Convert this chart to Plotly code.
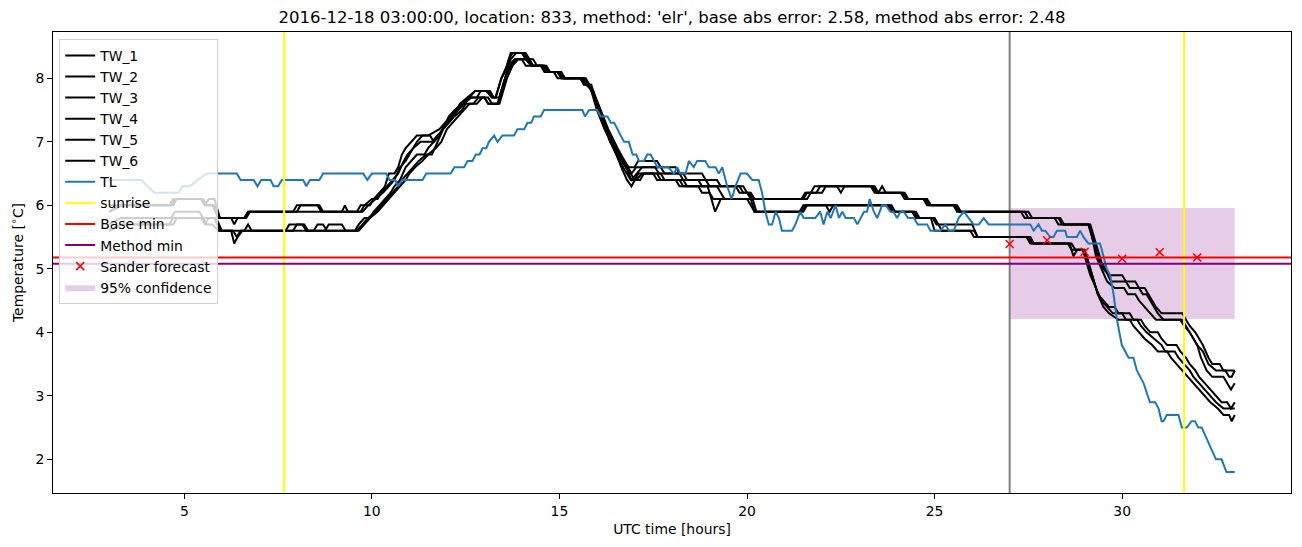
import plotly.graph_objects as go

TITLE = "2016-12-18 03:00:00, location: 833, method: 'elr', base abs error: 2.58, method abs error: 2.48"

# (hour, temperature) vertices
TW_1 = [(3.0,6.0),(4.6,6.0),(4.7,6.1),(5.45,6.1),(5.55,6.0),(5.65,6.1),(5.8,6.1),(5.95,5.8),(6.25,5.8),(6.33,5.7),(6.42,5.8),(6.6,5.8),(6.7,5.9),(7.9,5.9),(8.0,6.0),(8.6,6.0),(8.7,5.9),(9.6,5.9),
        (9.7,6.0),(9.95,6.0),(10.05,6.1),(10.2,6.2),(10.35,6.3),(10.45,6.5),(10.6,6.5),(10.7,6.6),(10.8,6.8),(10.9,6.9),(11.05,7.0),(11.2,7.1),(11.5,7.1),(11.8,7.2),(11.95,7.3),(12.1,7.4),(12.25,7.5),(12.35,7.6),(12.55,7.7),(12.75,7.8),(13.1,7.8),(13.2,7.7),(13.3,7.7),(13.45,8.0),(13.55,8.1),(13.65,8.3),(13.75,8.4),(14.1,8.4),(14.2,8.3),(14.3,8.2),(14.6,8.2),(14.7,8.1),(15.0,8.1),(15.1,8.0),(15.6,8.0),(15.7,7.9),(15.85,7.9),(16.0,7.6),(16.2,7.3),(16.4,7.0),(16.6,6.8),(16.85,6.6),
        (17.0,6.6),(17.1,6.7),(17.6,6.7),(17.7,6.6),(18.1,6.6),(18.2,6.5),(18.8,6.5),(18.9,6.4),(19.2,6.4),(19.3,6.3),(19.9,6.3),(20.0,6.2),(20.1,6.2),(20.2,6.1),(21.45,6.1),(21.55,6.2),(21.7,6.2),(21.8,6.3),(23.35,6.3),(23.45,6.2),(24.1,6.2),(24.2,6.1),(24.7,6.1),(24.8,6.0),(25.5,6.0),(25.6,5.9),(27.4,5.9),(27.5,5.8),(28.3,5.8),(28.4,5.7),(29.1,5.7),
        (29.2,5.5),(29.3,5.3),(29.4,5.1),(29.5,5.0),(29.65,4.9),(30.0,4.9),(30.1,4.8),(30.35,4.8),(30.45,4.7),(30.6,4.7),(30.7,4.6),(30.8,4.5),(30.9,4.4),(31.05,4.3),(31.6,4.3),(31.7,4.2),(31.8,4.1),(31.95,4.0),(32.05,3.9),(32.15,3.8),(32.3,3.6),(32.4,3.5),(32.6,3.5),(32.7,3.4),(33.0,3.4)]

TW_2 = [(3.0,5.9),(3.3,6.0),(4.65,6.0),(4.75,6.1),(5.45,6.1),(5.55,6.0),(5.75,6.0),(5.9,5.8),(6.6,5.8),(6.7,5.9),(8.0,5.9),(8.1,6.0),(8.55,6.0),(8.65,5.9),(9.2,5.9),(9.28,6.0),(9.36,5.9),(9.7,5.9),
        (9.8,6.0),(10.0,6.1),(10.15,6.1),(10.25,6.2),(10.4,6.3),(10.55,6.4),(10.7,6.5),(10.85,6.7),(10.95,6.8),(11.1,6.9),(11.3,7.0),(11.6,7.0),(11.75,7.1),(11.9,7.2),(12.0,7.3),(12.15,7.4),(12.3,7.5),(12.45,7.6),(12.65,7.7),(13.0,7.7),(13.1,7.6),(13.35,7.6),(13.5,7.9),(13.65,8.2),(13.8,8.3),(14.0,8.3),(14.1,8.2),(14.5,8.2),(14.6,8.1),(14.85,8.1),(14.95,8.0),(15.65,8.0),(15.75,7.9),(15.9,7.8),(16.1,7.5),(16.3,7.2),(16.55,6.9),(16.92,6.5),
        (17.05,6.6),(17.7,6.6),(17.8,6.5),(18.3,6.5),(18.4,6.4),(18.7,6.4),(18.8,6.3),(19.8,6.3),(19.9,6.2),(20.05,6.2),(20.15,6.1),(21.5,6.1),(21.6,6.2),(21.85,6.2),(21.95,6.3),(22.4,6.3),(22.5,6.2),(22.6,6.3),(23.3,6.3),(23.4,6.2),(24.2,6.2),(24.3,6.1),(24.75,6.1),(24.85,6.0),(25.6,6.0),(25.7,5.9),(27.3,5.9),(27.4,5.8),(28.35,5.8),(28.45,5.7),(29.15,5.7),
        (29.25,5.5),(29.35,5.3),(29.45,5.1),(29.55,5.0),(29.7,4.8),(30.1,4.8),(30.2,4.7),(30.45,4.7),(30.55,4.6),(30.65,4.6),(30.75,4.5),(30.85,4.4),(30.95,4.3),(31.1,4.2),(31.55,4.2),(31.65,4.1),(31.8,4.0),(31.9,3.9),(32.0,3.8),(32.15,3.7),(32.3,3.5),(32.5,3.4),(32.75,3.4),(32.85,3.3),(32.92,3.3),(33.0,3.4)]

TW_3 = [(3.0,5.9),(3.35,6.0),(4.7,6.0),(4.8,6.1),(5.5,6.1),(5.6,6.0),(5.8,6.0),(5.95,5.8),(6.65,5.8),(6.75,5.9),(9.75,5.9),
        (9.9,6.0),(10.1,6.1),(10.3,6.2),(10.45,6.3),(10.6,6.4),(10.75,6.6),(10.9,6.7),(11.0,6.8),(11.2,7.0),(11.35,7.1),(11.55,7.1),(11.65,7.0),(11.8,7.1),(11.9,7.2),(12.05,7.4),(12.2,7.5),(12.4,7.6),(12.6,7.7),(12.8,7.7),(12.9,7.8),(13.15,7.8),(13.25,7.7),(13.4,7.7),(13.55,8.0),(13.7,8.2),(13.85,8.3),(14.15,8.3),(14.25,8.2),(14.55,8.2),(14.65,8.1),(14.95,8.1),(15.05,8.0),(15.7,8.0),(15.8,7.9),(16.0,7.6),(16.25,7.2),(16.5,6.9),(16.7,6.7),(16.92,6.4),
        (17.05,6.5),(17.2,6.6),(17.55,6.6),(17.65,6.5),(18.2,6.5),(18.3,6.4),(18.9,6.4),(19.0,6.3),(19.7,6.3),(19.8,6.2),(20.0,6.2),(20.1,6.1),(21.6,6.1),(21.7,6.2),(22.0,6.2),(22.1,6.3),(23.4,6.3),(23.5,6.2),(23.6,6.3),(23.7,6.2),(24.15,6.2),(24.25,6.1),(24.8,6.1),(24.9,6.0),(25.55,6.0),(25.65,5.9),(27.5,5.9),(27.6,5.8),(28.2,5.8),(28.3,5.7),(29.1,5.7),
        (29.2,5.5),(29.3,5.2),(29.45,5.0),(29.6,4.8),(29.8,4.7),(30.05,4.7),(30.15,4.6),(30.35,4.6),(30.45,4.5),(30.6,4.4),(30.75,4.3),(30.9,4.2),(31.6,4.2),(31.7,4.1),(31.8,4.0),(31.9,3.9),(32.0,3.8),(32.1,3.6),(32.25,3.4),(32.4,3.3),(32.7,3.3),(32.8,3.2),(32.9,3.1),(33.0,3.2)]

TW_4 = [(3.0,5.6),(3.3,5.7),(4.6,5.7),(4.7,5.8),(5.45,5.8),(5.55,5.7),(5.65,5.8),(5.8,5.8),(5.95,5.6),(6.25,5.6),(6.33,5.4),(6.42,5.5),(6.55,5.6),(7.7,5.6),(7.8,5.7),(8.2,5.7),(8.3,5.6),(8.75,5.6),(8.85,5.7),(9.2,5.7),(9.3,5.6),(9.55,5.6),
        (9.65,5.7),(9.8,5.8),(9.95,5.8),(10.05,5.9),(10.2,6.0),(10.35,6.1),(10.5,6.2),(10.6,6.3),(10.75,6.4),(10.9,6.6),(11.05,6.7),(11.2,6.8),(11.4,6.8),(11.5,6.9),(11.65,7.0),(11.8,7.1),(11.95,7.3),(12.1,7.4),(12.25,7.5),(12.45,7.6),(12.6,7.7),(12.75,7.8),(13.05,7.8),(13.2,7.7),(13.3,7.7),(13.45,8.0),(13.6,8.2),(13.7,8.4),(14.05,8.4),(14.15,8.3),(14.3,8.3),(14.4,8.2),(14.65,8.2),(14.75,8.1),(14.95,8.1),(15.05,8.0),(15.55,8.0),(15.65,7.9),(15.8,7.9),(16.0,7.5),(16.2,7.2),(16.45,6.9),(16.65,6.6),(16.8,6.4),(16.92,6.3),
        (17.0,6.4),(17.1,6.5),(17.6,6.5),(17.7,6.4),(18.3,6.4),(18.4,6.3),(18.95,6.3),(19.05,6.1),(19.15,5.9),(19.3,6.1),(20.1,6.1),(20.2,5.9),(21.45,5.9),(21.55,6.0),(23.8,6.0),(23.9,5.9),(24.45,5.9),(24.55,5.8),(24.95,5.8),(25.05,5.7),(26.0,5.7),(26.15,5.5),(27.55,5.5),(27.65,5.4),(28.6,5.4),(28.7,5.2),(28.8,5.3),(28.95,5.3),
        (29.05,5.2),(29.15,5.0),(29.25,4.8),(29.35,4.6),(29.5,4.5),(29.65,4.4),(29.8,4.4),(29.9,4.3),(30.2,4.3),(30.3,4.2),(30.5,4.2),(30.6,4.1),(30.75,4.0),(30.95,4.0),(31.05,3.9),(31.2,3.8),(31.45,3.8),(31.55,3.7),(31.7,3.6),(31.8,3.5),(31.95,3.4),(32.05,3.3),(32.2,3.2),(32.35,3.1),(32.5,3.0),(32.65,2.9),(32.8,2.9),(32.9,2.8),(33.0,2.9)]

TW_5 = [(3.0,5.6),(3.35,5.7),(4.7,5.7),(4.8,5.8),(5.5,5.8),(5.6,5.7),(5.75,5.7),(5.9,5.6),(6.3,5.6),(6.4,5.5),(6.5,5.6),(7.9,5.6),(8.0,5.7),(8.15,5.7),(8.25,5.6),(9.6,5.6),
        (9.75,5.7),(9.9,5.8),(10.1,5.9),(10.25,6.0),(10.4,6.1),(10.55,6.2),(10.7,6.3),(10.8,6.4),(10.95,6.5),(11.1,6.6),(11.25,6.7),(11.45,6.8),(11.6,6.8),(11.75,7.0),(11.9,7.2),(12.05,7.3),(12.2,7.4),(12.4,7.5),(12.5,7.6),(12.7,7.6),(12.85,7.7),(13.0,7.7),(13.1,7.6),(13.35,7.6),(13.55,8.0),(13.7,8.3),(13.85,8.4),(14.0,8.4),(14.1,8.3),(14.25,8.2),(14.55,8.2),(14.65,8.1),(15.05,8.1),(15.15,8.0),(15.6,8.0),(15.7,7.9),(15.9,7.8),(16.1,7.4),(16.35,7.0),(16.6,6.7),(16.9,6.4),
        (17.05,6.4),(17.2,6.5),(17.5,6.5),(17.6,6.4),(18.1,6.4),(18.2,6.3),(18.7,6.3),(18.8,6.2),(19.0,6.2),(19.1,6.1),(20.0,6.1),(20.1,6.0),(20.2,5.9),(21.5,5.9),(21.6,6.0),(22.1,6.0),(22.2,5.9),(22.3,6.0),(23.85,6.0),(23.95,5.9),(24.5,5.9),(24.6,5.8),(25.0,5.8),(25.1,5.7),(25.2,5.6),(26.05,5.6),(26.15,5.5),(27.45,5.5),(27.55,5.4),(28.55,5.4),(28.65,5.3),(28.95,5.3),
        (29.05,5.1),(29.15,4.9),(29.3,4.7),(29.45,4.5),(29.6,4.4),(29.75,4.3),(30.0,4.3),(30.1,4.2),(30.4,4.2),(30.5,4.1),(30.65,4.0),(30.85,3.9),(31.05,3.8),(31.15,3.7),(31.4,3.7),(31.5,3.6),(31.65,3.5),(31.8,3.4),(31.9,3.3),(32.05,3.2),(32.2,3.1),(32.35,3.0),(32.5,2.9),(32.7,2.8),(33.0,2.8)]

TW_6 = [(3.0,5.7),(3.3,5.8),(4.65,5.8),(4.75,5.9),(5.4,5.9),(5.5,5.8),(5.85,5.8),(6.0,5.6),(6.6,5.6),(6.7,5.7),(6.8,5.6),(8.45,5.6),(8.55,5.7),(8.7,5.7),(8.8,5.6),(9.65,5.6),
        (9.8,5.7),(9.95,5.8),(10.15,5.9),(10.3,6.0),(10.45,6.1),(10.6,6.2),(10.75,6.3),(10.9,6.4),(11.0,6.5),(11.15,6.6),(11.35,6.7),(11.5,6.8),(11.7,6.9),(11.85,7.0),(12.0,7.2),(12.15,7.3),(12.3,7.4),(12.45,7.5),(12.6,7.6),(12.8,7.6),(12.95,7.7),(13.1,7.7),(13.2,7.6),(13.4,7.6),(13.6,8.0),(13.75,8.2),(13.9,8.3),(14.15,8.3),(14.25,8.2),(14.6,8.2),(14.7,8.1),(15.0,8.1),(15.1,8.0),(15.65,8.0),(15.75,7.9),(15.95,7.7),(16.15,7.4),(16.4,7.0),(16.65,6.7),(16.9,6.5),
        (17.0,6.4),(17.15,6.4),(17.25,6.5),(17.7,6.5),(17.8,6.4),(18.2,6.4),(18.3,6.3),(19.2,6.3),(19.3,6.2),(19.4,6.1),(20.15,6.1),(20.25,5.9),(21.4,5.9),(21.5,6.0),(23.75,6.0),(23.85,5.9),(24.4,5.9),(24.5,5.8),(24.9,5.8),(25.0,5.6),(25.95,5.6),(26.05,5.5),(27.5,5.5),(27.6,5.4),(28.65,5.4),(28.75,5.3),(29.0,5.3),
        (29.1,5.1),(29.2,4.9),(29.35,4.6),(29.5,4.4),(29.65,4.3),(29.9,4.2),(30.2,4.2),(30.3,4.1),(30.45,4.0),(30.6,3.9),(30.8,3.8),(30.95,3.7),(31.2,3.7),(31.3,3.6),(31.45,3.5),(31.6,3.4),(31.75,3.3),(31.9,3.2),(32.05,3.1),(32.2,3.0),(32.35,2.9),(32.55,2.8),(32.7,2.7),(32.85,2.7),(32.92,2.6),(33.0,2.7)]

TL = [(3.0,6.4),(3.85,6.4),(4.2,6.2),(4.85,6.2),(4.95,6.3),(5.15,6.3),(5.35,6.4),(5.6,6.5),(6.4,6.5),(6.5,6.4),(6.85,6.4),(6.95,6.3),(7.05,6.4),(7.3,6.4),(7.38,6.3),(7.5,6.3),(7.6,6.4),(8.17,6.4),(8.25,6.3),(8.35,6.4),(8.6,6.4),(8.7,6.5),(9.77,6.5),(9.88,6.4),(10.0,6.5),(10.38,6.5),(10.47,6.4),(10.62,6.4),(10.7,6.3),(10.8,6.4),(11.35,6.4),(11.45,6.5),(12.1,6.5),(12.2,6.6),(12.46,6.6),(12.55,6.7),(12.68,6.7),(12.77,6.8),(12.87,6.8),(12.95,6.9),(13.05,6.9),(13.12,7.0),(13.26,7.1),(13.35,7.0),(13.48,7.1),(13.79,7.1),(13.88,7.2),(14.06,7.2),(14.15,7.3),(14.25,7.3),(14.32,7.4),(14.5,7.4),(14.59,7.5),(15.61,7.5),(15.68,7.4),(15.79,7.5),(16.01,7.5),(16.1,7.4),(16.28,7.4),(16.37,7.3),(16.46,7.3),(16.55,7.2),(16.65,7.1),(16.72,7.0),(16.85,7.0),(16.95,6.8),(17.05,6.8),(17.12,6.7),(17.25,6.7),(17.34,6.8),(17.43,6.8),(17.52,6.7),(17.61,6.6),(17.9,6.6),(18.05,6.5),(18.14,6.6),(18.22,6.5),(18.36,6.5),(18.45,6.7),(18.58,6.6),(18.67,6.7),(18.89,6.7),(18.98,6.6),(19.16,6.6),(19.25,6.5),(19.34,6.6),(19.47,6.3),(19.59,6.1),(19.69,6.3),(19.83,6.5),(20.0,6.5),(20.14,6.4),(20.31,6.4),(20.4,6.2),(20.49,5.9),(20.58,5.7),(20.67,5.7),(20.76,5.9),(20.85,5.8),(20.93,5.6),(21.2,5.6),(21.29,5.7),(21.42,5.9),(21.51,5.8),(21.82,5.8),(21.95,5.9),(22.04,5.7),(22.14,5.9),(22.23,5.8),(22.36,6.0),(22.45,5.8),(22.54,5.9),(22.63,5.8),(22.85,5.8),(22.94,5.7),(23.03,5.8),(23.12,5.9),(23.2,5.9),(23.27,6.1),(23.38,5.9),(23.47,5.8),(23.6,6.0),(23.7,6.0),(23.82,5.9),(23.9,5.9),(24.0,5.8),(24.09,5.9),(24.18,5.9),(24.29,5.8),(24.45,5.8),(24.55,5.7),(24.8,5.7),(24.89,5.6),(25.15,5.6),(25.29,5.7),(25.38,5.6),(25.51,5.6),(25.64,5.8),(25.78,5.9),(25.91,5.8),(26.04,5.7),(26.18,5.7),(26.31,5.8),(26.44,5.7),(27.55,5.7),(27.64,5.6),(27.77,5.7),(27.86,5.6),(27.95,5.6),(28.08,5.5),(28.17,5.5),(28.26,5.6),(28.48,5.6),(28.53,5.5),(28.79,5.5),(28.88,5.6),(28.97,5.5),(29.1,5.4),(29.41,5.4),(29.5,5.2),(29.59,5.0),(29.68,4.9),(29.77,4.6),(29.86,4.2),(29.99,3.8),(30.17,3.6),(30.3,3.6),(30.39,3.4),(30.57,3.2),(30.74,2.9),(30.88,2.9),(30.97,2.8),(31.05,2.6),(31.1,2.6),(31.19,2.7),(31.5,2.7),(31.59,2.5),(31.72,2.5),(31.85,2.6),(31.94,2.6),(32.03,2.5),(32.12,2.5),(32.5,2.0),(32.65,2.0),(32.78,1.8),(33.0,1.8)]

SUNRISE_HOURS = [7.66, 31.65]
NOW_HOUR = 27.0
BASE_MIN = 5.18
METHOD_MIN = 5.08
SANDER_HOURS = [27, 28, 29, 30, 31, 32]
SANDER_TEMPS = [5.39, 5.45, 5.27, 5.16, 5.26, 5.18]
CONF_HOURS = [27.0, 33.0]
CONF_BOUNDS = [4.21, 5.96]

X_RANGE = [1.5, 34.5]
Y_RANGE = [1.47, 8.73]
X_TICKS = [5, 10, 15, 20, 25, 30]
Y_TICKS = [2, 3, 4, 5, 6, 7, 8]

FONT = "DejaVu Sans"
# the page body adds an 8 px margin at top/left, so the figure is 8 px smaller on each axis
FIG_W, FIG_H = 1294, 539

fig = go.Figure()

# 95% confidence box (drawn first, behind lines)
cx = [CONF_HOURS[0], CONF_HOURS[1], CONF_HOURS[1], CONF_HOURS[0], CONF_HOURS[0]]
cy = [CONF_BOUNDS[0], CONF_BOUNDS[0], CONF_BOUNDS[1], CONF_BOUNDS[1], CONF_BOUNDS[0]]
fig.add_trace(go.Scatter(x=cx, y=cy, fill="toself", fillcolor="rgba(128,0,128,0.2)",
                         line=dict(width=0), mode="lines", name="95% confidence", legendrank=12))

# gray "now" line
fig.add_trace(go.Scatter(x=[NOW_HOUR, NOW_HOUR], y=Y_RANGE, mode="lines",
                         line=dict(color="gray", width=2), showlegend=False))

for i, tw in enumerate([TW_1, TW_2, TW_3, TW_4, TW_5, TW_6]):
    fig.add_trace(go.Scatter(x=[p[0] for p in tw], y=[p[1] for p in tw], mode="lines",
                             line=dict(color="black", width=2), name=f"TW_{i+1}", legendrank=i + 1))

fig.add_trace(go.Scatter(x=[p[0] for p in TL], y=[p[1] for p in TL], mode="lines",
                         line=dict(color="#1f77b4", width=2), name="TL", legendrank=7))

for j, h in enumerate(SUNRISE_HOURS):
    fig.add_trace(go.Scatter(x=[h, h], y=Y_RANGE, mode="lines", line=dict(color="yellow", width=2),
                             name="sunrise", showlegend=(j == 0), legendrank=8))

fig.add_trace(go.Scatter(x=X_RANGE, y=[BASE_MIN, BASE_MIN], mode="lines",
                         line=dict(color="red", width=2), name="Base min", legendrank=9))
fig.add_trace(go.Scatter(x=X_RANGE, y=[METHOD_MIN, METHOD_MIN], mode="lines",
                         line=dict(color="purple", width=2), name="Method min", legendrank=10))
fig.add_trace(go.Scatter(x=SANDER_HOURS, y=SANDER_TEMPS, mode="markers",
                         marker=dict(symbol="x-thin", size=8, line=dict(color="red", width=1.5), color="red"),
                         name="Sander forecast", legendrank=11))

axis_common = dict(showline=True, linecolor="black", linewidth=1, mirror=True, showgrid=False,
                   zeroline=False, ticks="outside", ticklen=5, tickcolor="black", automargin=False,
                   tickfont=dict(family=FONT, size=13.9, color="black"))

fig.update_layout(
    width=FIG_W, height=FIG_H,
    margin=dict(l=45, r=11, t=24, b=54, autoexpand=False),
    paper_bgcolor="white", plot_bgcolor="white",
    font=dict(family=FONT, color="black"),
    title=dict(text=TITLE, x=0.5, xref="paper", y=1 - 9 / FIG_H, yref="container",
               xanchor="center", yanchor="middle", font=dict(family=FONT, size=16.5, color="black")),
    xaxis=dict(range=X_RANGE, tickvals=X_TICKS, title=dict(text="UTC time [hours]", standoff=6,
               font=dict(family=FONT, size=13.9)), **axis_common),
    yaxis=dict(range=Y_RANGE, tickvals=Y_TICKS, title=dict(text="Temperature [<sup>∘</sup>C]", standoff=8,
               font=dict(family=FONT, size=13.9)), **axis_common),
    legend=dict(x=0.005, y=0.985, xanchor="left", yanchor="top", bgcolor="rgba(255,255,255,0.8)",
                bordercolor="#d0d0d0", borderwidth=1, font=dict(family=FONT, size=13.9),
                itemwidth=30, tracegroupgap=0),
    showlegend=True,
)

fig.write_html("out.html")
